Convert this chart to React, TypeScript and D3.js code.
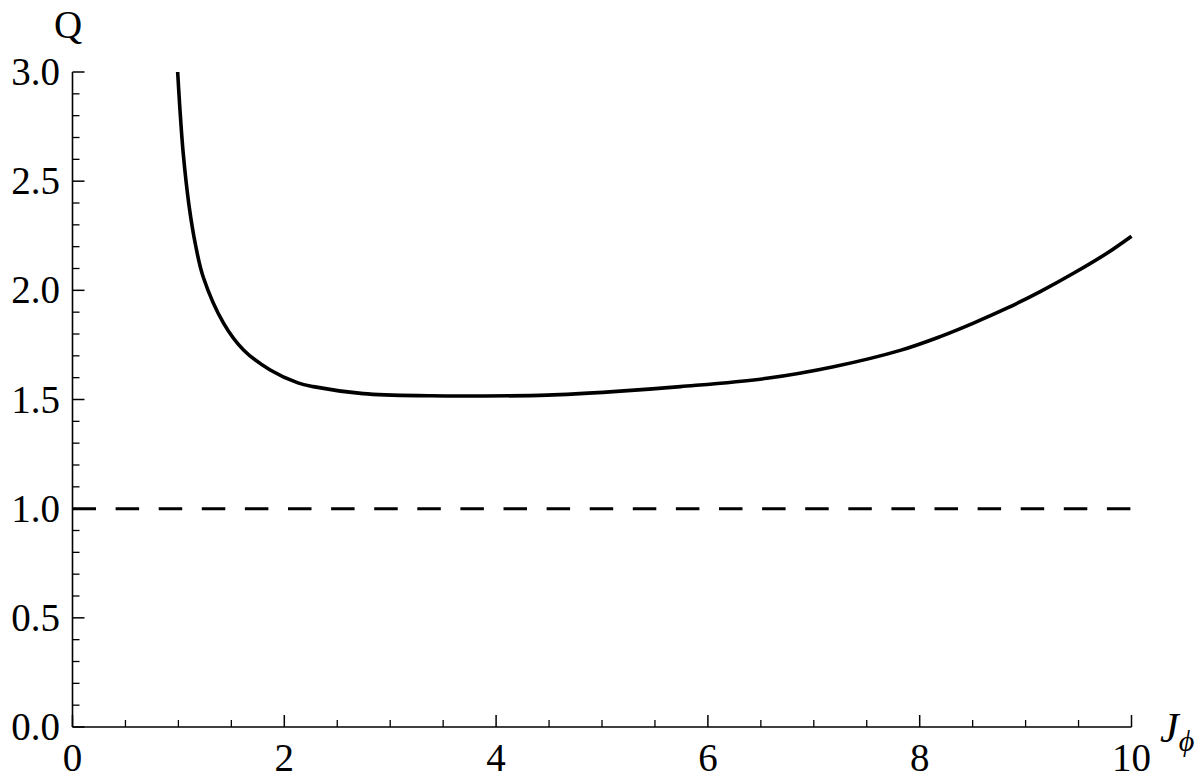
import React from "react";
import * as d3 from "d3";

const jPhi = [0.993, 1.015, 1.046, 1.1, 1.161, 1.235, 1.426, 1.615, 1.867, 2.129, 2.274, 2.745, 3.378, 3.85, 4.48, 5.106, 5.74, 6.557, 7.186, 7.816, 8.193, 8.508, 8.823, 9.138, 9.452, 9.768, 10.0];
const qValues = [3.0, 2.826, 2.625, 2.39, 2.21, 2.06, 1.85, 1.727, 1.635, 1.576, 1.559, 1.527, 1.517, 1.516, 1.52, 1.536, 1.559, 1.597, 1.65, 1.725, 1.788, 1.85, 1.918, 1.994, 2.078, 2.17, 2.248];
const refLevel = 1.0;
const xMajorTicks = [0, 2, 4, 6, 8, 10];
const yMajorTicks = [0, 0.5, 1.0, 1.5, 2.0, 2.5, 3.0];

const W = 1200;
const H = 778;
const FONT = "'Liberation Serif', 'DejaVu Serif', serif";

export default function App() {
  const x = d3.scaleLinear().domain([0, 10]).range([72.5, 1131.5]);
  const y = d3.scaleLinear().domain([0, 3]).range([727, 72]);

  const pts = jPhi.map((v, i) => [v, qValues[i]] as [number, number]);
  const line = d3
    .line<[number, number]>()
    .x((d) => x(d[0]))
    .y((d) => y(d[1]))
    .curve(d3.curveCatmullRom.alpha(0.5));

  const xMinor = d3.range(0, 10.001, 0.5).filter((t) => !xMajorTicks.some((m) => Math.abs(m - t) < 1e-6));
  const yMinor = d3.range(0, 3.001, 0.1).filter((t) => !yMajorTicks.some((m) => Math.abs(m - t) < 1e-6));

  return (
    <svg
      width={W}
      height={H}
      viewBox={`0 0 ${W} ${H}`}
      style={{ position: "absolute", left: 0, top: 0, background: "#fff", display: "block" }}
    >
      <rect x={0} y={0} width={W} height={H} fill="#fff" />
      {/* axes */}
      <line x1={x(0)} x2={x(10)} y1={y(0)} y2={y(0)} stroke="#000" strokeWidth={1.6} />
      <line x1={x(0)} x2={x(0)} y1={y(0)} y2={y(3)} stroke="#000" strokeWidth={1.6} />
      {/* x ticks */}
      {xMajorTicks.map((t) => (
        <line key={"xM" + t} x1={x(t)} x2={x(t)} y1={y(0)} y2={y(0) - 12} stroke="#000" strokeWidth={1.5} />
      ))}
      {xMinor.map((t) => (
        <line key={"xm" + t} x1={x(t)} x2={x(t)} y1={y(0)} y2={y(0) - 7} stroke="#000" strokeWidth={1.3} />
      ))}
      {/* y ticks */}
      {yMajorTicks.map((t) => (
        <line key={"yM" + t} x1={x(0)} x2={x(0) + 12} y1={y(t)} y2={y(t)} stroke="#000" strokeWidth={1.5} />
      ))}
      {yMinor.map((t) => (
        <line key={"ym" + t} x1={x(0)} x2={x(0) + 7} y1={y(t)} y2={y(t)} stroke="#000" strokeWidth={1.3} />
      ))}
      {/* tick labels */}
      {xMajorTicks.map((t) => (
        <text key={"xl" + t} x={x(t)} y={771} textAnchor="middle" fontFamily={FONT} fontSize={39} fill="#000">
          {String(t)}
        </text>
      ))}
      {yMajorTicks.map((t) => (
        <text key={"yl" + t} x={60} y={y(t) + 13} textAnchor="end" fontFamily={FONT} fontSize={39} fill="#000">
          {t.toFixed(1)}
        </text>
      ))}
      {/* axis labels */}
      <text x={54} y={38} fontFamily={FONT} fontSize={39} fill="#000">
        Q
      </text>
      <text x={1160} y={742} fontFamily={FONT} fontSize={42} fontStyle="italic" fill="#000">
        J
        <tspan fontSize={30} dy={9}>
          ϕ
        </tspan>
      </text>
      {/* reference dashed line */}
      <line
        x1={x(0)}
        x2={x(10)}
        y1={y(refLevel)}
        y2={y(refLevel)}
        stroke="#000"
        strokeWidth={3}
        strokeDasharray="23.5 19.6"
      />
      {/* curve */}
      <path d={line(pts) || ""} fill="none" stroke="#000" strokeWidth={3.6} strokeLinejoin="round" />
    </svg>
  );
}
